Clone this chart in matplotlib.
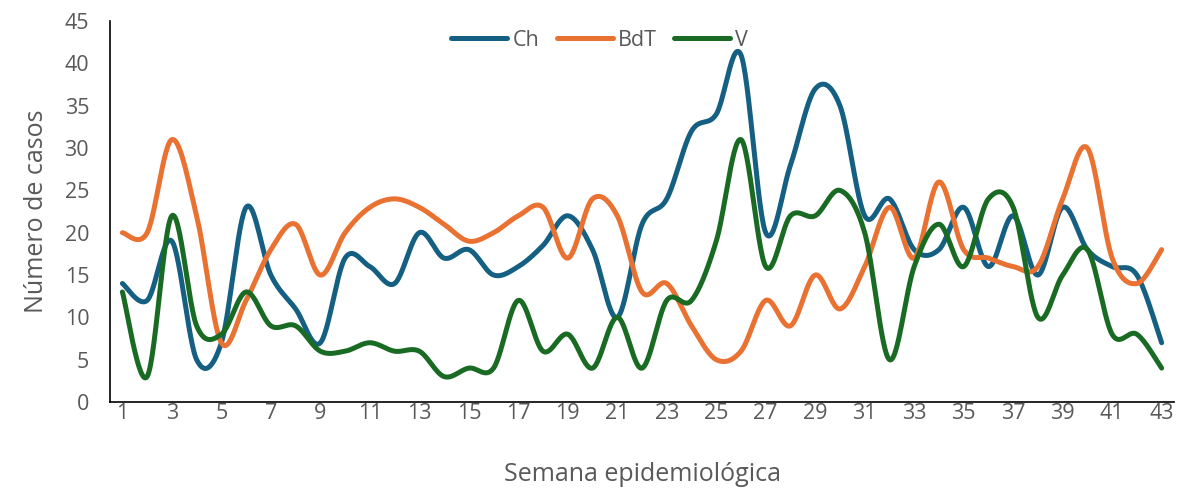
import numpy as np
import matplotlib
matplotlib.use('Agg')
from matplotlib import pyplot as plt

# weekly case counts
semanas = list(range(1, 44))
ch = [14, 12, 19, 5, 7, 23, 15, 11, 7, 17, 16, 14, 20, 17, 18, 15, 16, 18.5, 22, 18, 10, 21, 24, 32, 34, 41,
      20, 28, 37, 35, 22, 24, 18, 18, 23, 16, 22, 15, 23, 18, 16, 15, 7]
bdt = [20, 20, 31, 22, 7, 12, 18, 21, 15, 20, 23, 24, 23, 21, 19, 20, 22, 23, 17, 24, 22, 13, 14, 9, 5, 6,
       12, 9, 15, 11, 16, 23, 17, 26, 18, 17, 16, 16, 24, 30, 17, 14, 18]
v = [13, 3, 22, 9, 8, 13, 9, 9, 6, 6, 7, 6, 6, 3, 4, 4, 12, 6, 8, 4, 10, 4, 12, 12, 19, 31,
     16, 22, 22, 25, 20, 5, 16, 21, 16, 24, 23, 10, 15, 18, 8, 8, 4]

series = [('Ch', ch, '#156082'), ('BdT', bdt, '#E97132'), ('V', v, '#196B24')]


def smooth(x, y, n=30):
    # Catmull-Rom style bezier, similar to Excel's smoothed line
    x = np.asarray(x, float)
    y = np.asarray(y, float)
    px = np.concatenate([[x[0]], x, [x[-1]]])
    py = np.concatenate([[y[0]], y, [y[-1]]])
    xs, ys = [], []
    t = np.linspace(0, 1, n)
    for i in range(1, len(px) - 2):
        p0 = np.array([px[i], py[i]])
        p3 = np.array([px[i + 1], py[i + 1]])
        p1 = p0 + (p3 - np.array([px[i - 1], py[i - 1]])) / 6
        p2 = p3 - (np.array([px[i + 2], py[i + 2]]) - p0) / 6
        b = ((1 - t) ** 3)[:, None] * p0 + (3 * (1 - t) ** 2 * t)[:, None] * p1 \
            + (3 * (1 - t) * t ** 2)[:, None] * p2 + (t ** 3)[:, None] * p3
        xs.extend(b[:, 0])
        ys.extend(b[:, 1])
    return xs, ys


plt.rcParams['font.family'] = ['Open Sans', 'DejaVu Sans']
gris = '#595959'

fig = plt.figure(figsize=(11.83, 4.92), dpi=100)
ax = fig.add_axes([0.093, 0.183, 0.8994, 0.774])

for nombre, datos, color in series:
    sx, sy = smooth(semanas, datos)
    ax.plot(sx, sy, color=color, lw=3.6, solid_capstyle='round', label=nombre)

ax.set_xlim(0.5, 43.5)
ax.set_ylim(0, 45)
ax.set_yticks(range(0, 46, 5))
ax.set_xticks(semanas[::2])
ax.tick_params(length=0, labelsize=15.5, colors=gris)
ax.tick_params(axis='y', pad=15)
ax.tick_params(axis='x', pad=1)
for s in ['top', 'right']:
    ax.spines[s].set_visible(False)
for s in ['left', 'bottom']:
    ax.spines[s].set_color('#000000')
    ax.spines[s].set_linewidth(1.2)

ax.set_ylabel('Número de casos', fontsize=18, color=gris, labelpad=11)
ax.set_xlabel('Semana epidemiológica', fontsize=18, color=gris, labelpad=27)

fig.legend(loc='center', bbox_to_anchor=(0.507, 0.918), ncol=3, frameon=False,
           fontsize=15.5, handlelength=2.6, columnspacing=0.8, handletextpad=0.25, labelcolor=gris)

fig.savefig('out.png', dpi=100)
